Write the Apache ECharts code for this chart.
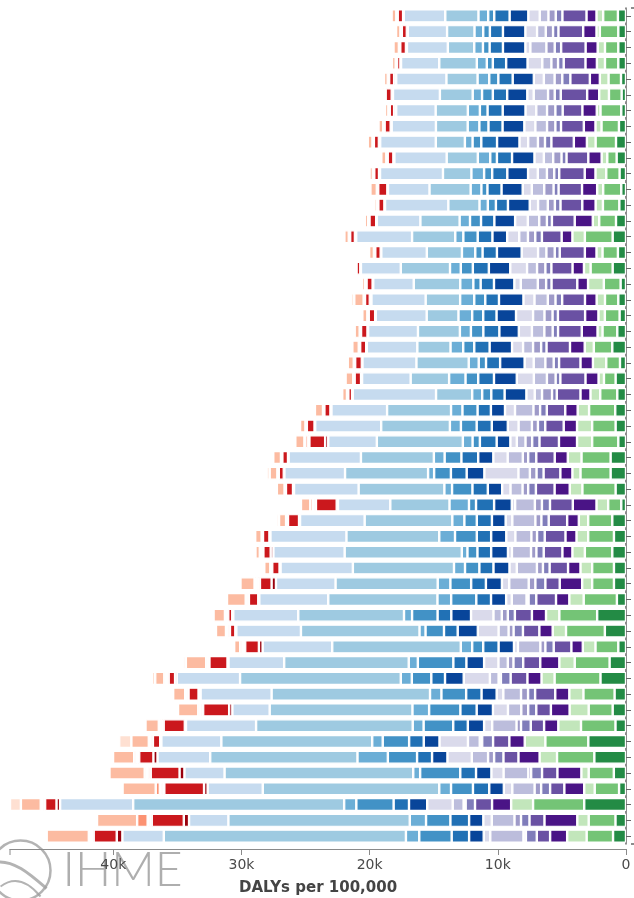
<!DOCTYPE html>
<html>
<head>
<meta charset="utf-8">
<script src="https://cdn.jsdelivr.net/npm/echarts/dist/echarts.min.js"></script>
<style>
  html, body { margin: 0; padding: 0; background: #fff; }
  #chart { width: 634px; height: 898px; }
</style>
</head>
<body>
<div id="chart"></div>
<script>
// All values are thousands of DALYs per 100,000; one entry per row, top row first.
const rows = Array.from({ length: 53 }, (_, i) => 'Location ' + (i + 1));

// Injuries
const selfHarmViolence = [0.63,0.60,0.60,0.60,0.39,0.34,0.37,0.55,0.78,0.73,0.50,0.37,0.52,0.78,1.04,0.63,1.04,0.42,0.60,0.50,0.68,1.07,0.47,0.81,0.68,0.84,0.81,0.60,1.20,1.20,0.81,0.37,1.07,0.94,1.07,0.94,0.94,0.71,2.25,1.65,0.60,1.28,1.99,0.89,1.04,0.82,2.94,2.47,0.95,0.54,3.26,0.82,1.01];
const unintentional = [1.15,1.44,1.04,1.04,0.97,0.99,1.62,1.36,1.59,0.73,1.04,1.41,1.28,1.31,2.17,1.20,1.72,1.31,1.04,1.15,1.15,1.44,1.07,0.91,1.33,2.04,1.83,2.04,2.27,2.35,2.59,1.02,1.88,2.01,2.14,1.70,1.70,2.59,2.95,3.03,1.78,2.72,3.58,2.43,1.87,2.69,3.35,2.91,1.96,1.90,3.99,2.09,2.06];
const transport = [0.52,0.26,0.57,0.63,0.68,0.76,0.29,0.47,0.68,0.44,0.84,0.47,0.57,0.50,0.97,0.47,0.52,1.23,0.65,0.50,0.39,0.71,1.04,0.42,0.76,0.89,1.18,1.18,1.07,0.63,0.99,0.91,0.73,0.91,0.97,0.91,0.78,1.12,1.04,1.04,0.99,1.20,1.02,1.10,1.49,1.77,1.61,1.36,0.57,0.82,1.71,0.89,1.52];

// Non-communicable diseases (purple group)
const otherNcd = [0.78,1.04,0.94,0.89,0.78,0.94,1.12,0.91,1.02,1.04,0.84,1.18,1.04,1.41,0.84,0.91,0.89,0.84,0.91,1.04,1.23,1.15,0.97,1.02,0.78,0.97,1.04,1.41,1.02,0.94,1.18,1.85,0.91,0.86,0.78,0.97,1.75,1.04,1.10,1.04,0.89,1.49,1.10,1.10,1.46,1.11,1.20,1.65,1.87,1.55,1.49,2.56,1.33];
const musculoskeletal = [1.88,1.93,1.91,1.70,1.52,2.06,1.54,1.78,1.75,1.70,1.99,1.83,1.70,1.78,1.54,1.96,1.65,2.01,1.78,2.12,1.85,1.83,1.67,1.96,1.85,1.44,1.44,1.52,1.44,1.31,1.46,1.78,1.44,1.62,1.46,1.44,1.12,1.54,1.33,1.28,1.38,1.33,1.31,1.57,1.14,1.04,1.27,1.17,1.20,1.11,1.33,1.17,1.04];
const senseOrgan = [0.52,0.42,0.50,0.44,0.63,0.47,0.57,0.44,0.50,0.39,0.39,0.39,0.44,0.39,0.52,0.39,0.47,0.42,0.52,0.42,0.42,0.42,0.42,0.37,0.37,0.52,0.57,0.57,0.63,0.55,0.60,0.63,0.57,0.60,0.57,0.52,0.78,0.60,0.55,0.73,0.65,0.76,0.76,0.55,0.63,0.76,0.85,0.73,0.85,0.70,0.73,0.66,0.85];
const skin = [0.57,0.57,0.65,0.52,0.60,0.52,0.65,0.65,0.55,0.65,0.57,0.73,0.55,0.60,0.57,0.65,0.65,0.65,0.60,0.63,0.65,0.63,0.65,0.68,0.78,0.52,0.47,0.52,0.42,0.52,0.44,0.55,0.47,0.44,0.42,0.47,0.52,0.16,0.47,0.39,0.39,0.44,0.18,0.55,0.54,0.35,0.19,0.47,0.22,0.51,0.16,0.51,0.19];
const diabetesCkd = [0.68,0.68,1.25,0.71,0.84,1.12,0.84,0.91,0.76,0.73,0.71,0.97,0.76,0.89,0.68,0.65,0.78,1.33,1.04,0.89,0.97,0.78,0.91,1.02,0.57,1.44,1.04,0.68,1.18,0.89,0.94,1.54,1.80,1.25,1.49,1.57,1.52,1.15,0.65,0.78,1.75,0.73,0.68,1.38,1.04,1.90,0.92,1.27,1.93,1.74,0.85,1.77,2.59];
const substanceUse = [0.89,0.91,0.39,1.15,0.78,0.50,0.84,0.86,0.68,0.73,0.76,0.71,0.65,0.99,0.94,1.28,1.31,0.50,0.86,1.33,1.02,0.86,0.71,1.33,0.65,0.78,0.84,0.50,1.12,2.66,0.65,0.26,0.52,0.71,0.31,0.57,0.57,0.44,1.75,1.62,0.31,1.12,2.04,0.52,1.17,0.63,2.22,1.90,0.95,0.66,1.99,0.66,0.51];

// Non-communicable diseases (blue group)
const mental = [1.46,1.75,1.75,1.67,1.65,1.57,1.78,1.70,1.75,1.75,1.62,1.65,1.70,1.62,1.15,1.93,1.67,1.59,1.91,1.52,1.52,1.75,1.91,1.78,1.70,1.10,1.25,1.07,1.18,1.38,1.12,1.38,1.07,1.18,1.31,1.25,1.25,1.18,1.54,1.57,1.20,1.38,1.46,1.18,1.27,1.27,1.23,1.20,1.20,1.14,1.42,1.11,1.14];
const neurological = [1.20,1.02,1.04,1.04,1.12,1.12,1.18,1.10,1.23,1.18,1.18,1.10,0.94,1.04,1.15,1.12,1.25,1.04,1.07,1.04,1.25,1.20,1.10,1.23,1.04,1.04,1.18,1.31,1.31,1.23,1.20,1.41,1.18,1.12,1.07,1.10,1.15,1.15,1.07,1.07,1.20,1.02,1.07,1.20,1.27,1.14,1.14,1.17,1.23,1.27,1.20,1.46,1.36];
const digestive = [0.47,0.52,0.52,0.47,0.71,0.84,0.60,0.71,0.68,0.52,0.63,0.47,0.63,0.86,1.12,0.57,0.94,0.57,0.86,0.86,0.97,0.86,0.57,0.99,0.71,1.18,1.23,0.57,1.31,1.31,1.59,0.55,0.97,1.70,0.78,1.12,1.62,1.96,1.99,1.44,0.86,2.77,1.52,1.93,2.44,2.31,2.06,2.28,3.13,1.71,2.91,1.90,2.53];
const chronicRespiratory = [0.76,0.68,0.68,0.78,0.91,0.73,0.94,0.91,0.60,0.97,0.99,0.84,0.65,0.81,0.63,1.04,0.84,1.02,1.10,1.07,0.86,0.99,0.78,1.28,0.78,0.89,0.86,0.76,0.84,0.47,0.60,1.52,0.94,1.23,0.44,0.86,0.99,1.07,0.63,0.47,0.89,0.71,0.86,0.89,1.30,0.85,0.82,2.37,0.54,0.92,0.95,1.27,1.04];
const cardiovascular = [2.59,2.14,2.06,2.93,2.43,2.56,2.51,2.48,2.27,2.43,2.22,3.21,2.43,3.06,3.37,2.74,3.84,3.63,2.69,2.48,3.27,2.59,4.08,3.00,2.82,4.99,5.36,6.71,5.69,6.48,6.69,4.62,6.84,7.24,9.14,7.89,7.97,8.52,8.25,9.25,10.03,9.72,12.54,12.36,11.14,12.22,11.77,11.49,14.72,13.77,16.46,14.15,18.89];
const neoplasms = [3.24,3.06,3.19,2.98,3.92,3.66,3.08,3.45,4.34,4.08,4.91,3.24,4.94,3.40,4.36,3.55,3.11,3.16,4.23,3.97,3.89,3.94,4.21,3.79,6.50,4.34,5.15,3.79,5.64,4.73,5.04,4.08,5.04,5.93,5.56,5.64,4.65,5.38,5.07,5.04,5.43,4.34,4.94,5.54,2.91,5.47,4.68,4.11,3.13,4.30,5.70,3.07,3.23];

// Communicable, maternal, neonatal and nutritional diseases
const nutritional = [0.05,0.08,0.08,0.05,0.16,0.10,0.16,0.08,0.10,0.08,0.08,0.05,0.05,0.05,0.10,0.05,0.05,0.05,0.13,0.05,0.05,0.05,0.05,0.08,0.05,0.08,0.05,0.24,0.05,0.05,0.08,0.10,0.08,0.08,0.21,0.08,0.34,0.08,0.08,0.08,0.29,0.08,0.13,0.16,0.25,0.09,0.09,0.32,0.38,0.28,0.28,0.41,0.44];
const maternalNeonatal = [0.42,0.39,0.44,0.26,0.39,0.47,0.34,0.47,0.39,0.44,0.37,0.71,0.47,0.52,0.37,0.42,0.29,0.47,0.37,0.50,0.50,0.47,0.52,0.50,0.29,0.47,0.60,1.23,0.44,0.39,0.55,1.62,0.86,0.50,0.57,0.57,0.91,0.73,0.31,0.42,1.07,1.41,0.50,0.78,2.03,1.65,0.57,1.11,2.25,3.10,0.89,2.50,1.80];
const otherInfectious = [0.03,0.03,0.03,0.03,0.03,0.03,0.03,0.03,0.03,0.03,0.03,0.03,0.03,0.03,0.03,0.03,0.03,0.03,0.03,0.03,0.03,0.03,0.03,0.03,0.03,0.03,0.03,0.13,0.03,0.03,0.03,0.13,0.05,0.03,0.10,0.05,0.16,0.10,0.10,0.13,0.13,0.10,0.13,0.10,0.16,0.16,0.13,0.13,0.19,0.16,0.16,0.16,0.16];
const ntdsMalaria = [0.03,0.03,0.03,0.03,0.03,0.03,0.03,0.03,0.03,0.03,0.03,0.03,0.03,0.03,0.03,0.03,0.03,0.03,0.03,0.03,0.03,0.03,0.03,0.03,0.03,0.03,0.03,0.21,0.03,0.03,0.03,0.10,0.05,0.03,0.10,0.05,0.10,0.10,0.08,0.10,0.13,0.05,0.08,0.08,0.09,0.13,0.13,0.13,0.09,0.19,0.09,0.16,0.09];
const enteric = [0.05,0.05,0.05,0.05,0.05,0.05,0.05,0.05,0.05,0.05,0.05,0.05,0.05,0.05,0.05,0.05,0.05,0.05,0.05,0.05,0.05,0.05,0.05,0.05,0.05,0.05,0.05,0.05,0.05,0.05,0.05,0.21,0.05,0.05,0.08,0.05,0.16,0.05,0.08,0.08,0.13,0.10,0.13,0.08,0.13,0.09,0.06,0.13,0.19,0.32,0.09,0.82,0.13];
const respiratoryTb = [0.37,0.34,0.42,0.29,0.29,0.18,0.26,0.37,0.37,0.39,0.26,0.50,0.21,0.26,0.34,0.37,0.18,0.24,0.73,0.39,0.39,0.50,0.47,0.60,0.37,0.63,0.42,0.71,0.60,0.60,0.60,0.73,0.55,0.50,0.34,0.47,1.10,1.46,0.89,0.78,0.47,1.59,0.71,0.94,1.58,1.04,1.36,1.65,2.75,2.59,1.55,3.13,3.29];
const hivStis = [0,0,0,0,0,0,0,0,0,0,0,0,0,0,0,0,0,0,0.24,0,0,0,0,0,0,0,0,0,0,0.24,0,0,0.20,0,0,0,0,0,0,0,0,0.20,0.26,0,0,0,0.95,0,0,0,0.85,0,0];

// Stacking order runs outward from zero (right edge) to the left.
const causes = [
  { name: 'Self-harm and violence', values: selfHarmViolence, color: '#238b45' },
  { name: 'Unintentional injuries', values: unintentional, color: '#74c476' },
  { name: 'Transport injuries', values: transport, color: '#c2e6bb' },
  { name: 'Other non-communicable', values: otherNcd, color: '#4a1486' },
  { name: 'Musculoskeletal disorders', values: musculoskeletal, color: '#6a51a3' },
  { name: 'Sense organ diseases', values: senseOrgan, color: '#807dba' },
  { name: 'Skin diseases', values: skin, color: '#9e9ac8' },
  { name: 'Diabetes and kidney diseases', values: diabetesCkd, color: '#bcbddc' },
  { name: 'Substance use disorders', values: substanceUse, color: '#dadaeb' },
  { name: 'Mental disorders', values: mental, color: '#08459a' },
  { name: 'Neurological disorders', values: neurological, color: '#2171b5' },
  { name: 'Digestive diseases', values: digestive, color: '#4292c6' },
  { name: 'Chronic respiratory diseases', values: chronicRespiratory, color: '#6baed6' },
  { name: 'Cardiovascular diseases', values: cardiovascular, color: '#9ecae1' },
  { name: 'Neoplasms', values: neoplasms, color: '#c6dbef' },
  { name: 'Nutritional deficiencies', values: nutritional, color: '#99000d' },
  { name: 'Maternal and neonatal disorders', values: maternalNeonatal, color: '#cb181d' },
  { name: 'Other infectious diseases', values: otherInfectious, color: '#ef3b2c' },
  { name: 'NTDs and malaria', values: ntdsMalaria, color: '#fb6a4a' },
  { name: 'Enteric infections', values: enteric, color: '#fc9272' },
  { name: 'Respiratory infections and TB', values: respiratoryTb, color: '#fcbba1' },
  { name: 'HIV/AIDS and STIs', values: hivStis, color: '#fee0d2' }
];

const tickLabels = ['0', '10k', '20k', '30k', '40k'];

// Axis runs from zero to the largest row total.
const totals = rows.map((_, r) => causes.reduce((s, c) => s + c.values[r], 0));
const axisMax = Math.max(...totals);

// Plot area and axis offsets
const W = 634, H = 898;
const plot = { left: 10, right: 8, top: 8, bottom: 54 };
const axisGap = 5;
const axisGrey = '#8a8a8a', yAxisGrey = '#666666';

const chart = echarts.init(document.getElementById('chart'), null, { renderer: 'canvas' });

// End caps of the axis domain lines (outer ticks)
const xLineY = H - plot.bottom + axisGap;
const yLineX = W - plot.right + axisGap;
const outerTicks = [
  { x1: plot.left, y1: xLineY, x2: plot.left, y2: xLineY + 6, c: axisGrey, w: 1 },
  { x1: yLineX, y1: plot.top, x2: yLineX + 6, y2: plot.top, c: yAxisGrey, w: 1.5 },
  { x1: yLineX, y1: H - plot.bottom, x2: yLineX + 6, y2: H - plot.bottom, c: yAxisGrey, w: 1.5 }
].map(t => ({
  type: 'line', silent: true,
  shape: { x1: t.x1, y1: t.y1, x2: t.x2, y2: t.y2 },
  style: { stroke: t.c, lineWidth: t.w }
}));

chart.setOption({
  animation: false,
  backgroundColor: '#ffffff',
  grid: {
    left: plot.left, right: plot.right, top: plot.top, bottom: plot.bottom,
    containLabel: false,
    outerBoundsMode: 'none'
  },
  xAxis: {
    type: 'value',
    inverse: true,
    min: 0,
    max: axisMax,
    interval: 10,
    offset: axisGap,
    splitLine: { show: false },
    axisLine: { show: true, lineStyle: { color: axisGrey, width: 1 } },
    axisTick: { show: true, length: 6, lineStyle: { color: axisGrey } },
    axisLabel: {
      showMaxLabel: false,
      margin: 9,
      color: '#4a4a4a',
      fontFamily: 'DejaVu Sans',
      fontSize: 14,
      formatter: v => tickLabels[Math.round(v / 10)] || ''
    },
    name: 'DALYs per 100,000',
    nameLocation: 'middle',
    nameGap: 32,
    nameTextStyle: {
      color: '#444444',
      fontFamily: 'DejaVu Sans',
      fontWeight: 'bold',
      fontSize: 15
    }
  },
  yAxis: {
    type: 'category',
    data: rows,
    inverse: true,
    position: 'right',
    offset: axisGap,
    axisLine: { show: true, lineStyle: { color: yAxisGrey, width: 1.5 } },
    axisTick: { show: true, alignWithLabel: true, length: 5, lineStyle: { color: yAxisGrey } },
    axisLabel: { show: false },
    splitLine: { show: false }
  },
  series: causes.map(c => ({
    name: c.name,
    type: 'bar',
    stack: 'total',
    barWidth: 13,
    silent: true,
    data: c.values,
    itemStyle: { color: c.color, borderColor: '#ffffff', borderWidth: 1.2 }
  })),
  graphic: outerTicks.concat([
    {
      type: 'group',
      left: -12, top: 838,
      silent: true,
      z: -1,
      children: [
        { type: 'circle', shape: { cx: 32, cy: 30, r: 30 }, style: { fill: 'none', stroke: '#a0a0a0', lineWidth: 2.5, opacity: 0.8 } },
        { type: 'bezierCurve', shape: { x1: 6, y1: 22, cpx1: 24, cpy1: 18, cpx2: 42, cpy2: 34, x2: 58, y2: 48 }, style: { fill: 'none', stroke: '#a0a0a0', lineWidth: 3, opacity: 0.8 } },
        { type: 'bezierCurve', shape: { x1: 12, y1: 46, cpx1: 28, cpy1: 34, cpx2: 42, cpy2: 44, x2: 52, y2: 56 }, style: { fill: 'none', stroke: '#a0a0a0', lineWidth: 2, opacity: 0.8 } },
        { type: 'text', style: { x: 74, y: 30, text: 'IHME', fill: '#a0a0a0', opacity: 0.85, font: '300 48px Lato, "Open Sans", sans-serif', verticalAlign: 'middle' } }
      ]
    }
  ])
});
</script>
</body>
</html>
